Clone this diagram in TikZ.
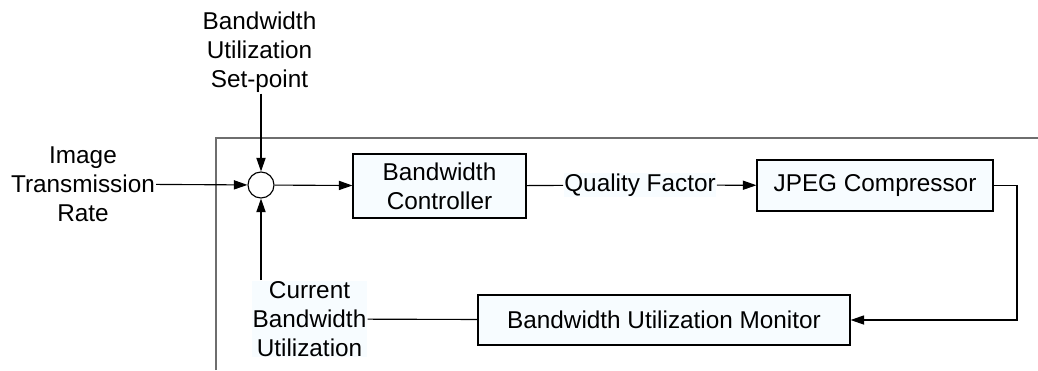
\documentclass[tikz,border=0pt]{standalone}
\usepackage{fontspec}
\setmainfont{Liberation Sans}
\usetikzlibrary{arrows.meta}
\definecolor{boxfill}{RGB}{247,252,255}
\definecolor{framegray}{RGB}{110,110,110}
\tikzset{
	blk/.style={draw,fill=boxfill,inner sep=0pt,align=center},
	lbl/.style={align=center,inner sep=0.5pt},
}
\begin{document}
\begin{tikzpicture}[>={Triangle[length=3.4mm,width=2.3mm]},x=0.025cm,y=-0.025cm,line width=0.8pt,font=\fontsize{17.3}{20.6}\selectfont]
	\useasboundingbox (0,0) rectangle (1038,370);
	%Khung ngoai
	\draw[framegray,line width=1.2pt] (216,370)--(216,138)--(1038,138);
	%Bo cong
	\node[draw,circle,fill=white,inner sep=0pt,minimum size=0.65cm] (sum) at (261,185) {};
	%Khoi
	\node[blk,minimum width=4.325cm,minimum height=1.6cm] (ctrl) at (439.5,186) {Bandwidth\\Controller};
	\node[blk,minimum width=5.9cm,minimum height=1.275cm] (jpeg) at (875,185.5) {JPEG Compressor};
	\node[blk,minimum width=9.3cm,minimum height=1.25cm] (mon) at (664,320) {Bandwidth Utilization Monitor};
	%Nhan
	\node[lbl] (sp) at (259.5,52) {Bandwidth\\Utilization\\Set-point};
	\node[lbl] (rate) at (83,184) {Image\\Transmission\\Rate};
	\node[lbl,fill=boxfill] (cur) at (309.5,319) {Current\\Bandwidth\\Utilization};
	\node[lbl,fill=boxfill] (qf) at (640,185) {Quality Factor};
	\coordinate (turn) at (1017,250);
	%Mui ten
	\draw[->] (sp.south -| sum) -- (sum);
	\draw[->] (rate) -- (sum);
	\draw[->] (cur.north -| sum) -- (sum);
	\draw[->] (sum) -- (ctrl);
	\draw (ctrl) -- (qf);
	\draw[->] (qf) -- (jpeg);
	\draw[->] (jpeg) -| (turn) |- (mon);
	\draw (mon) -- (cur);
\end{tikzpicture}
\end{document}
